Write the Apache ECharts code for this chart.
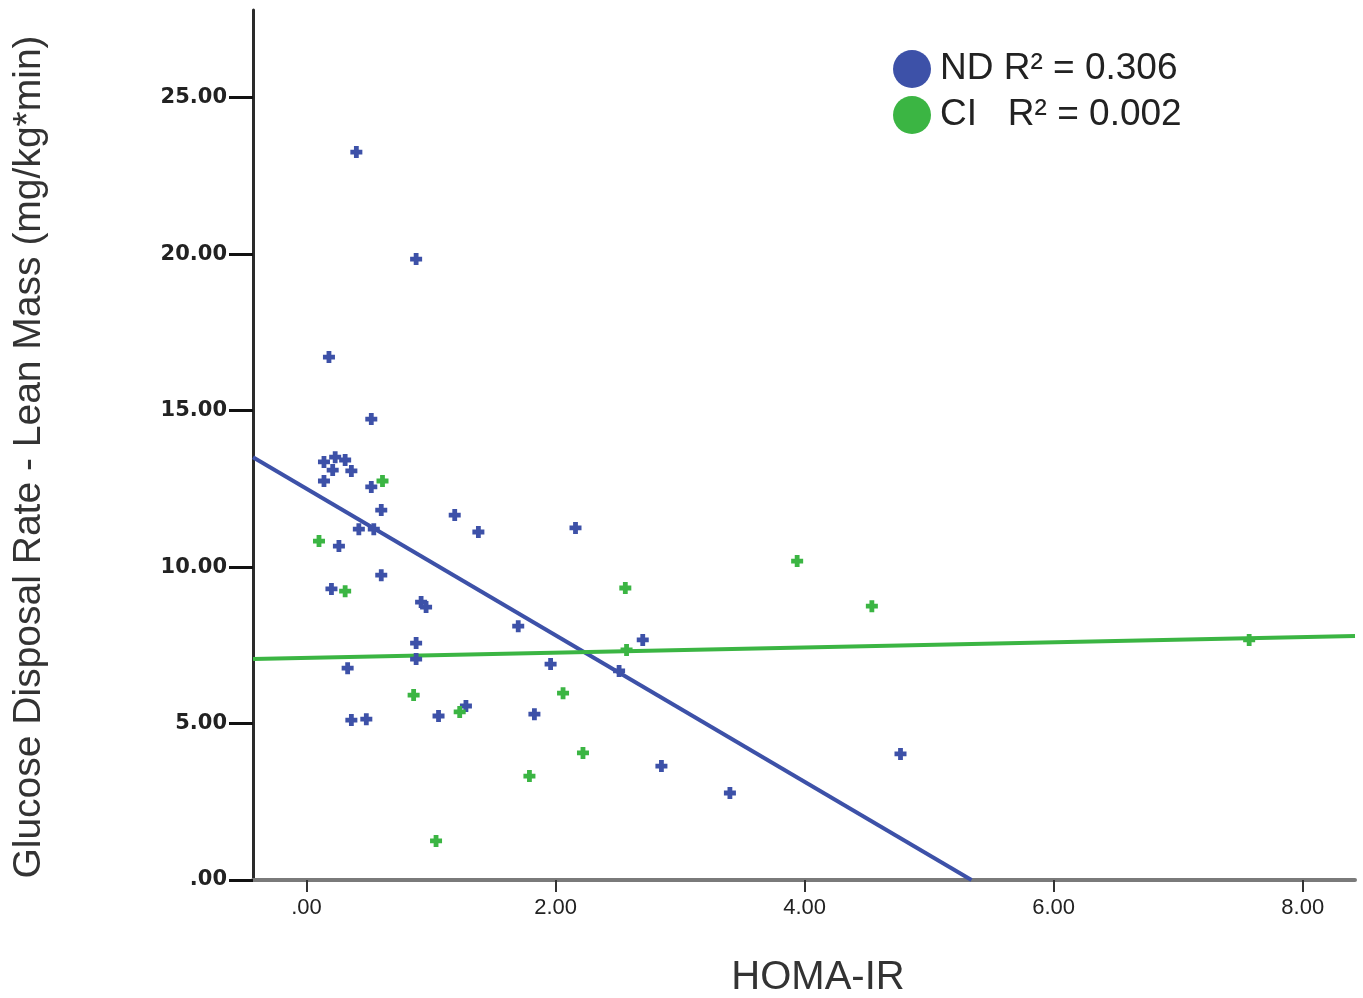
<!DOCTYPE html>
<html>
<head>
<meta charset="utf-8">
<script src="https://cdn.jsdelivr.net/npm/echarts@6/dist/echarts.min.js"></script>
<style>
html,body{margin:0;padding:0;background:#fff;}
#chart{width:1363px;height:998px;}
</style>
</head>
<body>
<div id="chart"></div>
<script>
// ---- data ----
const seriesNames = ['ND', 'CI'];
const r2Values = ['0.306', '0.002'];
const xTicks = [0, 2, 4, 6, 8];
const yTicks = [0, 5, 10, 15, 20, 25];

const ndPoints = [
  [0.40, 23.26], [0.88, 19.84], [0.18, 16.71], [0.52, 14.73], [0.14, 13.36],
  [0.23, 13.51], [0.31, 13.42], [0.21, 13.10], [0.36, 13.07], [0.14, 12.75],
  [0.52, 12.56], [0.60, 11.82], [1.19, 11.66], [1.38, 11.12], [0.42, 11.21],
  [0.54, 11.21], [0.26, 10.67], [0.60, 9.74], [0.20, 9.30], [0.92, 8.88],
  [0.96, 8.72], [0.88, 7.57], [0.88, 7.06], [0.33, 6.77], [0.36, 5.11],
  [0.48, 5.14], [1.06, 5.24], [1.28, 5.56], [2.16, 11.25], [1.70, 8.11],
  [1.96, 6.90], [2.51, 6.68], [2.70, 7.67], [2.85, 3.64], [3.40, 2.78],
  [4.77, 4.03], [1.83, 5.30]
];
const ciPoints = [
  [0.61, 12.75], [0.10, 10.83], [0.31, 9.23], [0.86, 5.91], [1.23, 5.37],
  [1.04, 1.25], [2.56, 9.33], [2.57, 7.35], [2.06, 5.97], [2.22, 4.06],
  [1.79, 3.32], [3.94, 10.19], [4.54, 8.75], [7.57, 7.67]
];
// fit lines (endpoints)
const ndFit = [[-0.43, 13.51], [5.34, 0]];
const ciFit = [[-0.43, 7.06], [8.42, 7.80]];

const xMin = -0.43, xMax = 8.42, yMin = 0, yMax = 27.8;

const blue = '#3d51a8';
const green = '#3bb543';
const plusPath = 'path://M3,0 H7 V3 H10 V7 H7 V10 H3 V7 H0 V3 H3 Z';

const chart = echarts.init(document.getElementById('chart'));
const fmt = v => {
  const s = v.toFixed(2);
  return s.startsWith('0') ? s.slice(1) : s;
};

chart.setOption({
  animation: false,
  backgroundColor: '#fff',
  grid: { left: 253, right: 8, top: 10, bottom: 118, containLabel: false, outerBoundsMode: 'none' },
  legend: {
    orient: 'vertical',
    left: 888,
    top: 45,
    itemWidth: 38,
    itemHeight: 38,
    itemGap: 8,
    icon: 'circle',
    data: seriesNames,
    formatter: name => {
      const i = seriesNames.indexOf(name);
      return (name === 'CI' ? 'CI   ' : name + ' ') + 'R\u00B2 = ' + r2Values[i];
    },
    itemStyle: { opacity: 1 },
    textStyle: { fontFamily: 'Liberation Sans', fontSize: 37, color: '#222', padding: [0, 0, 0, 4] }
  },
  xAxis: {
    type: 'value',
    min: xMin,
    max: xMax,
    name: 'HOMA-IR',
    nameLocation: 'middle',
    nameGap: 78,
    nameTextStyle: { fontFamily: 'Liberation Sans', fontSize: 40, color: '#333', padding: [0, 0, 0, 28] },
    axisLine: { show: true, onZero: false, lineStyle: { color: '#7a7a7a', width: 4 } },
    axisTick: { show: true, length: 12, customValues: xTicks, lineStyle: { color: '#333', width: 2 } },
    axisLabel: {
      customValues: xTicks,
      formatter: fmt,
      margin: 17,
      fontFamily: 'Liberation Sans',
      fontSize: 22,
      color: '#222'
    },
    splitLine: { show: false }
  },
  yAxis: {
    type: 'value',
    min: yMin,
    max: yMax,
    name: 'Glucose Disposal Rate - Lean Mass (mg/kg*min)',
    nameLocation: 'middle',
    nameGap: 204,
    nameTextStyle: { fontFamily: 'Liberation Sans', fontSize: 39, color: '#333', padding: [0, 24, 0, 0] },
    axisLine: { show: true, onZero: false, lineStyle: { color: '#2a2a2a', width: 3 } },
    axisTick: { show: true, length: 24, customValues: yTicks, lineStyle: { color: '#111', width: 3 } },
    axisLabel: {
      customValues: yTicks,
      formatter: fmt,
      margin: 26,
      fontFamily: 'DejaVu Sans',
      fontWeight: 'bold',
      fontSize: 21,
      color: '#222'
    },
    splitLine: { show: false }
  },
  series: [
    {
      name: 'ND', type: 'scatter', data: ndPoints,
      symbol: plusPath, symbolSize: 12,
      itemStyle: { color: blue, opacity: 1 }, z: 3
    },
    {
      name: 'CI', type: 'scatter', data: ciPoints,
      symbol: plusPath, symbolSize: 12,
      itemStyle: { color: green, opacity: 1 }, z: 3
    },
    {
      name: 'ND fit', type: 'line', data: ndFit,
      showSymbol: false, symbol: 'none',
      lineStyle: { color: blue, width: 4 }, z: 2, clip: true
    },
    {
      name: 'CI fit', type: 'line', data: ciFit,
      showSymbol: false, symbol: 'none',
      lineStyle: { color: green, width: 4 }, z: 2, clip: true
    }
  ]
});
</script>
</body>
</html>
